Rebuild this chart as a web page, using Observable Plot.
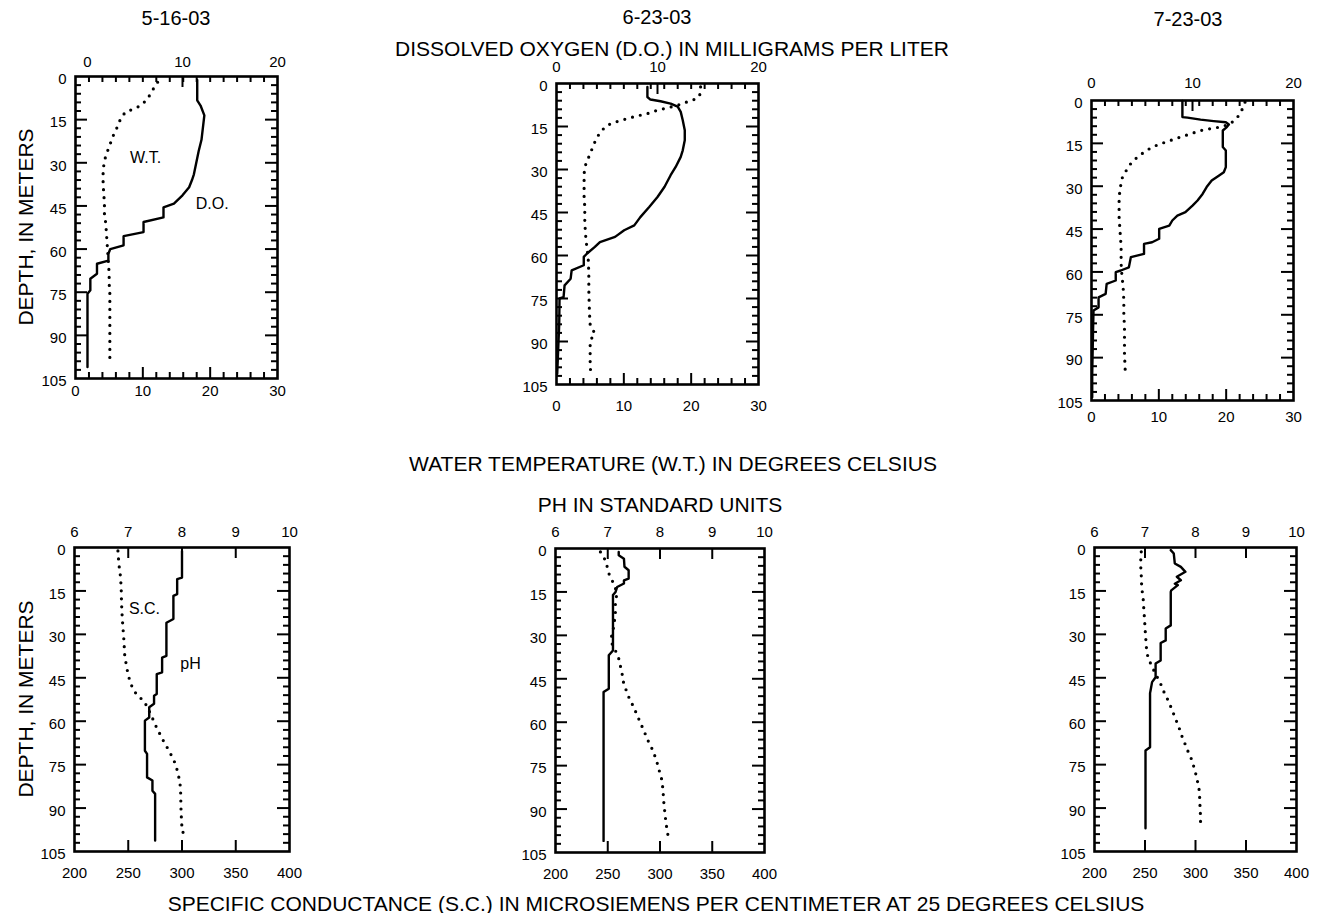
<!DOCTYPE html>
<html><head><meta charset="utf-8">
<script src="https://cdn.jsdelivr.net/npm/d3@7"></script>
<script src="https://cdn.jsdelivr.net/npm/@observablehq/plot@0.6"></script>
<style>
body{margin:0;background:#fff;}
#chart{position:relative;width:1319px;height:913px;background:#fff;font-family:"Liberation Sans",Arial,sans-serif;color:#000;overflow:hidden;}
.t{position:absolute;transform:translate(-50%,-50%);white-space:nowrap;font-size:21px;line-height:1;}
.d{font-size:20px;}
.v{transform:translate(-50%,-50%) rotate(-90deg);}
.p{position:absolute;}
</style></head><body><div id="chart"></div>
<script>
// ---------- data (depth in meters, value) ----------
const dates = ["5-16-03", "6-23-03", "7-23-03"];
const depthLabels = [0, 15, 30, 45, 60, 75, 90, 105];
const wtTickLabels = [0, 10, 20, 30];
const doTickLabels = [0, 10, 20];
const phTickLabels = [6, 7, 8, 9, 10];
const scTickLabels = [200, 250, 300, 350, 400];

// Dissolved oxygen (mg/L)
const do0516 = [[1.2,11.55],[8.3,11.55],[10.1,11.9],[13.5,12.3],[22,12.0],[26,11.7],[34,11.2],[36,11.0],[38.5,10.7],[41.3,10.0],[44.2,9.1],[45.5,8.0],[49,8.0],[50.6,5.9],[54.1,5.9],[55.5,3.8],[58.7,3.8],[60,2.4],[61.6,2.2],[64,2.2],[65.1,1.0],[68.6,1.0],[70.3,0.3],[74.3,0.3],[75.5,0],[101,0]];
const do0623 = [[1.2,9.0],[4.7,9.0],[5.6,9.3],[6.2,10.3],[7.0,11.3],[8.1,12.0],[9.9,12.3],[12.8,12.5],[16.3,12.7],[19.8,12.7],[23.3,12.5],[25.6,12.3],[29.1,11.8],[32,11.3],[36,10.7],[39.6,10.0],[43,9.2],[46.6,8.3],[49.5,7.7],[51.2,6.7],[53.5,5.8],[55.3,4.3],[57,3.8],[59.4,3.0],[60.5,2.7],[63.4,2.7],[65.2,1.5],[68.1,1.4],[70.4,0.8],[74.5,0.7],[75,0.3],[83.8,0.27],[101.3,0.07]];
const do0723 = [[0.2,9.0],[5.8,9.0],[6.0,9.5],[6.7,10.8],[7.2,12.1],[7.6,13.3],[8.4,13.6],[9.3,13.4],[10.5,13.0],[16.3,13.0],[17.5,13.3],[23.3,13.3],[25.1,13.1],[26.3,12.6],[28,11.9],[30.3,11.4],[32.7,11.0],[35,10.5],[36.8,10.0],[39.1,9.3],[40.3,8.5],[42,8.0],[43.8,7.7],[44.9,6.7],[48.4,6.7],[49.6,6.0],[50.2,5.2],[53.7,5.2],[54.8,3.9],[58.4,3.7],[59.5,2.9],[60.1,2.4],[63,2.4],[64.2,1.5],[67.7,1.4],[68.9,0.7],[72.4,0.7],[73.5,0.2],[79.3,0.16],[95.7,0.07],[103.9,0.07]];

// Water temperature (deg C)
const wt0516 = [[2.0,12.2],[4.9,11.4],[7.8,10.7],[10.1,9.7],[11.2,8.7],[12.4,7.4],[14.7,6.7],[17.6,6.2],[21.1,5.5],[24.5,5.0],[27.4,4.5],[30.9,4.2],[33.8,4.1],[37.3,4.1],[40.8,4.2],[44.2,4.3],[47.7,4.3],[51.2,4.5],[54.7,4.6],[58.1,4.7],[61.6,4.8],[65.1,4.9],[68.6,5.0],[72,5.0],[75.5,5.1],[79,5.1],[85,5.1],[91,5.1],[98.7,5.1]];
const wt0623 = [[1.2,21.4],[3.5,21.4],[5.2,20.9],[6.4,19.4],[7.6,18.0],[8.5,16.5],[9.3,15.0],[10.5,13.5],[11.6,11.5],[12.6,10.0],[13.4,8.8],[14.6,7.5],[16.9,6.5],[19.8,5.8],[22.7,5.3],[25.6,4.8],[28.5,4.3],[31.4,4.1],[36,4.1],[39.6,4.1],[43.1,4.2],[47.7,4.2],[52.4,4.3],[57,4.5],[60.5,4.7],[66.3,4.8],[72.1,4.8],[80.3,4.9],[84,5.0],[87.3,5.7],[89.6,5.0],[94.3,5.0],[98.4,5.0],[101.3,5.1]];
const wt0723 = [[0.6,22.8],[3.5,22.3],[5.8,21.7],[8.2,20.6],[9.3,19.1],[9.9,17.6],[10.5,16.2],[11.7,14.7],[12.8,13.2],[14.0,11.7],[15.2,10.2],[16.3,9.0],[18.1,7.8],[19.8,6.8],[22.2,5.8],[25.1,5.0],[27.4,4.5],[30.3,4.3],[33.8,4.1],[37.3,4.1],[40.8,4.1],[44.4,4.2],[47.8,4.3],[51.3,4.4],[57.2,4.4],[60.7,4.5],[65.4,4.7],[70.0,4.8],[74.7,4.8],[79.3,4.9],[82.8,4.9],[86.3,4.9],[89.9,4.9],[92.8,5.0],[95.7,5.0]];

// pH (standard units)
const ph0516 = [[1.2,8.0],[10.4,8.0],[10.9,7.91],[16.1,7.91],[16.7,7.84],[24.7,7.84],[26.0,7.71],[37.4,7.71],[38,7.63],[43.1,7.63],[43.7,7.53],[50.6,7.53],[51.2,7.48],[54,7.48],[55.2,7.39],[58.7,7.39],[59.8,7.31],[70.2,7.31],[71.3,7.35],[79.4,7.35],[80.5,7.45],[84,7.45],[85.1,7.5],[101.2,7.5]];
const ph0623 = [[1.2,7.21],[2.3,7.21],[3.5,7.31],[6.3,7.32],[7.5,7.40],[10.4,7.40],[11,7.31],[12.1,7.31],[13.3,7.18],[15,7.15],[16.1,7.10],[35.2,7.10],[36.9,7.02],[48.4,7.02],[49.6,6.92],[101,6.92]];
const ph0723 = [[0.9,7.51],[2.1,7.57],[5.5,7.59],[6.7,7.71],[8.4,7.80],[10.1,7.63],[11.3,7.71],[12.5,7.59],[13,7.65],[14.8,7.52],[15.3,7.51],[26.9,7.51],[28,7.41],[32.1,7.41],[33,7.31],[39,7.31],[40.1,7.21],[44.8,7.21],[46.5,7.14],[49.4,7.11],[50.3,7.10],[69,7.10],[70.1,7.01],[97,7.01]];

// Specific conductance (uS/cm at 25 C)
const sc0516 = [[1.2,240.4],[5.8,241.3],[10.4,242.9],[15,243.5],[19.6,243.8],[24.2,244.4],[28.8,245.3],[32.2,246],[36.8,246.6],[41.4,248.5],[44.9,250.6],[48.3,253.7],[51.2,258.4],[52.9,264.6],[57.5,270.8],[61.5,275.5],[66.1,281.7],[70.2,287.9],[73.6,292.6],[77.1,295.7],[81.1,298.1],[85.1,298.8],[89.7,299.0],[94,299.5],[98.3,300.2],[99.1,307.9]];
const sc0623 = [[1.2,243],[2.9,246.2],[5.2,248.7],[8.6,251],[11,254.1],[13.3,257.3],[16.7,258.3],[19,257.3],[22.5,257.3],[27.1,255.7],[30.6,253.5],[32.9,254.1],[35.2,257.3],[38,260.5],[43.2,263.7],[46.7,265.3],[51.3,270.1],[54.8,274.8],[58.8,279.6],[62.8,284.4],[66.9,289.2],[69.8,293.3],[73.8,297.1],[77.3,299.7],[80.1,301.9],[83.6,302.9],[87.1,303.5],[89.4,304.1],[94,305.5],[98,307],[101,309]];
const sc0723 = [[1.5,246.3],[5.5,245.6],[9.6,246.3],[12.5,246.6],[15.3,247.3],[18.2,248.3],[21.7,248.9],[25.1,249.6],[29.2,250.3],[32.1,250.9],[35.5,251.6],[38.4,253.2],[40.7,256.5],[42.5,258.8],[44.8,262.2],[47.1,265.5],[49.9,268.8],[53.4,273.7],[56.3,277],[59.2,280.3],[62.1,283.6],[65.5,286.9],[68.4,290.3],[71.3,293.6],[73,295.9],[75.9,298.5],[79.4,301.2],[83.4,303.5],[86.3,304.1],[89.7,304.5],[93,305],[97,305]];

// in-panel curve labels: [text, x value on bottom scale, depth]
const labelsTop = [["W.T.", 10.4, 28.2], ["D.O.", 20.3, 44.2]];
const labelsBot = [["S.C.", 265.1, 21.1], ["pH", 307.9, 40.1]];

// ---------- layout ----------
const FONT = '"Liberation Sans", Arial, sans-serif';
const chart = document.getElementById("chart");
function addText(txt, x, y, cls) {
  const d = document.createElement("div");
  d.className = "t " + (cls || "");
  d.textContent = txt;
  d.style.left = x + "px"; d.style.top = y + "px";
  chart.appendChild(d);
}

const depthMinor = d3.range(3, 105, 3).filter(d => d % 15 !== 0);
const depthMajor = d3.range(15, 105, 15);

function panel(c) {
  const mL = 60, mR = 14, mT = 32, mB = 36;
  const W = c.w, H = c.h;
  const tk = {stroke: "#000", strokeWidth: 2};
  const marks = [
    Plot.tickY(depthMinor, {y: d => d, insetRight: W - 6, ...tk}),
    Plot.tickY(depthMajor, {y: d => d, insetRight: W - 12, ...tk}),
    Plot.tickY(depthMinor, {y: d => d, insetLeft: W - 6, ...tk}),
    Plot.tickY(depthMajor, {y: d => d, insetLeft: W - 12, ...tk}),
    Plot.tickX(c.botMinor, {x: d => d, insetTop: H - 6, ...tk}),
    Plot.tickX(c.botMajor, {x: d => d, insetTop: H - 11, ...tk}),
    Plot.tickX(c.topMinor, {x: d => c.toX(d), insetBottom: H - 6, ...tk}),
    Plot.tickX(c.topMajor, {x: d => c.toX(d), insetBottom: H - 11, ...tk}),
    Plot.line(c.dotted, {x: d => c.dotX(d[1]), y: d => d[0], stroke: "#000", strokeWidth: 3.2, strokeDasharray: "0,8", strokeLinecap: "round", strokeLinejoin: "round"}),
    Plot.line(c.solid, {x: d => c.solX(d[1]), y: d => d[0], stroke: "#000", strokeWidth: 2.4, strokeLinejoin: "round"}),
    Plot.frame({stroke: "#000", strokeWidth: 2.6}),
    Plot.text(depthLabels, {y: d => d, text: d => String(d), frameAnchor: "left", textAnchor: "end", dx: -9, dy: 3, fontSize: 15, fill: "#000"}),
    Plot.text(c.botLabels, {x: d => d, text: d => String(d), frameAnchor: "bottom", lineAnchor: "middle", dy: c.botDy, fontSize: 15, fill: "#000"}),
    Plot.text(c.topLabels, {x: d => c.toX(d), text: d => String(d), frameAnchor: "top", lineAnchor: "middle", dy: c.topDy, fontSize: 15, fill: "#000"})
  ];
  if (c.labels) marks.push(Plot.text(c.labels, {x: d => d[1], y: d => d[2], text: d => d[0], fontSize: 16, fill: "#000"}));
  const svg = Plot.plot({
    width: W + mL + mR, height: H + mT + mB,
    marginLeft: mL, marginRight: mR, marginTop: mT, marginBottom: mB,
    x: {domain: c.xDomain, axis: null},
    y: {domain: [0, 105], reverse: true, axis: null},
    style: {fontFamily: FONT, fontSize: "15px", color: "#000", background: "transparent", overflow: "visible"},
    marks
  });
  svg.classList.add("p");
  svg.style.left = (c.left - mL) + "px";
  svg.style.top = (c.top - mT) + "px";
  chart.appendChild(svg);
}

// top row: bottom scale = water temperature 0-30, top scale = dissolved oxygen 0-20
const wtMinor = d3.range(2, 30, 2).filter(d => d % 10 !== 0);
const wtMajor = [10, 20];
const wtEven = d3.range(2, 30, 2);
function topRowPanel(left, top, w, h, doZero, wt, dox, topDy, botDy, labels) {
  const doToX = v => doZero + v * (30 - doZero) / 20;
  panel({left, top, w, h, xDomain: [0, 30], toX: doToX,
    botMinor: wtMinor, botMajor: wtMajor,
    topMinor: wtEven.map(v => (v - doZero) * 20 / (30 - doZero)), topMajor: [10],
    topLabels: doTickLabels, botLabels: wtTickLabels,
    dotted: wt, dotX: v => v, solid: dox, solX: doToX,
    topDy, botDy, labels});
}
// bottom row: bottom scale = specific conductance 200-400, top scale = pH 6-10
function botRowPanel(left, top, w, h, ph, sc, topDy, botDy, labels) {
  const phToX = v => 200 + (v - 6) * 50;
  panel({left, top, w, h, xDomain: [200, 400], toX: phToX,
    botMinor: [], botMajor: [250, 300, 350],
    topMinor: [], topMajor: [7, 8, 9],
    topLabels: phTickLabels, botLabels: scTickLabels,
    dotted: sc, dotX: v => v, solid: ph, solX: phToX,
    topDy, botDy, labels});
}

topRowPanel(75, 76, 202, 302, 1.78, wt0516, do0516, -14, 13, labelsTop);
topRowPanel(556, 83, 202, 301, 0, wt0623, do0623, -16, 22, null);
topRowPanel(1091, 100, 202, 300, 0, wt0723, do0723, -17, 17, null);
botRowPanel(74, 547, 215, 304, ph0516, sc0516, -15, 22, labelsBot);
botRowPanel(555, 548, 209, 304, ph0623, sc0623, -16, 22, null);
botRowPanel(1094, 547, 202, 304, ph0723, sc0723, -15, 22, null);

// titles
addText(dates[0], 176, 18, "d");
addText(dates[1], 657, 17, "d");
addText(dates[2], 1188, 19, "d");
addText("DISSOLVED OXYGEN (D.O.) IN MILLIGRAMS PER LITER", 672, 48);
addText("WATER TEMPERATURE (W.T.) IN DEGREES CELSIUS", 673, 463);
addText("PH IN STANDARD UNITS", 660, 504);
addText("SPECIFIC CONDUCTANCE (S.C.) IN MICROSIEMENS PER CENTIMETER AT 25 DEGREES CELSIUS", 656, 903);
addText("DEPTH, IN METERS", 25, 227, "v");
addText("DEPTH, IN METERS", 25, 699, "v");
</script></body></html>
